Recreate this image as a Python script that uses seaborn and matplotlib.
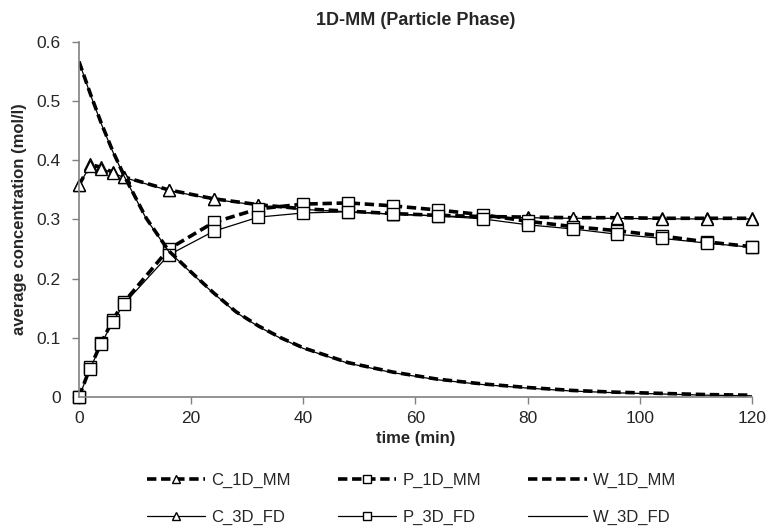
import numpy as np
import pandas as pd
import matplotlib
matplotlib.use("Agg")
import matplotlib.pyplot as plt
import seaborn as sns

# tidpunkter med markörer (C och P)
t_mark = [0, 2, 4, 6, 8, 16, 24, 32, 40, 48, 56, 64, 72, 80, 88, 96, 104, 112, 120]

c_1d = [0.358, 0.393, 0.388, 0.380, 0.372, 0.350, 0.335, 0.325, 0.318, 0.314, 0.310,
        0.307, 0.305, 0.304, 0.303, 0.303, 0.302, 0.302, 0.302]
c_3d = [0.358, 0.391, 0.386, 0.379, 0.371, 0.349, 0.334, 0.324, 0.317, 0.313, 0.309,
        0.306, 0.304, 0.303, 0.302, 0.302, 0.301, 0.301, 0.301]
p_1d = [0.0, 0.050, 0.092, 0.130, 0.160, 0.250, 0.295, 0.318, 0.326, 0.328, 0.323,
        0.316, 0.308, 0.297, 0.288, 0.281, 0.272, 0.262, 0.254]
p_3d = [0.0, 0.048, 0.090, 0.127, 0.157, 0.240, 0.280, 0.304, 0.311, 0.313, 0.309,
        0.306, 0.301, 0.291, 0.284, 0.275, 0.268, 0.260, 0.253]

# W utan markörer, tätare avläsning
t_w = [0, 2, 4, 6, 8, 12, 16, 20, 24, 28, 32, 36, 40, 48, 56, 64, 72, 80, 88, 96, 104, 112, 120]
w_1d = [0.567, 0.513, 0.462, 0.416, 0.375, 0.302, 0.247, 0.211, 0.176, 0.144, 0.120,
        0.100, 0.083, 0.058, 0.042, 0.030, 0.022, 0.016, 0.011, 0.008, 0.006, 0.004, 0.003]
w_3d = [0.567, 0.512, 0.461, 0.415, 0.374, 0.301, 0.246, 0.210, 0.175, 0.143, 0.119,
        0.099, 0.082, 0.057, 0.041, 0.029, 0.021, 0.015, 0.010, 0.007, 0.005, 0.003, 0.002]

sns.set_style("white")
plt.rcParams['font.family'] = ['Liberation Sans', 'DejaVu Sans']

fig = plt.figure(figsize=(7.7, 5.3), dpi=100)
ax = fig.add_axes([0.1026, 0.251, 0.8740, 0.6698])

mk = dict(markersize=8, mfc='white', mec='black', mew=1.0, clip_on=False)
dash = dict(lw=2.6, ls=(0, (2.6, 1.3)))
thin = dict(lw=0.9, ls='-')

sns.lineplot(x=t_mark, y=c_1d, ax=ax, color='black', marker='^', label='C_1D_MM', **dash, **mk)
sns.lineplot(x=t_mark, y=c_3d, ax=ax, color='black', marker='^', label='C_3D_FD', **thin, **mk)
sns.lineplot(x=t_mark, y=p_1d, ax=ax, color='black', marker='s', label='P_1D_MM', **dash, **mk)
sns.lineplot(x=t_mark, y=p_3d, ax=ax, color='black', marker='s', label='P_3D_FD', **thin, **mk)
sns.lineplot(x=t_w, y=w_1d, ax=ax, color='black', label='W_1D_MM', **dash)
sns.lineplot(x=t_w, y=w_3d, ax=ax, color='black', label='W_3D_FD', **thin)

ax.set_xlim(0, 120)
ax.set_ylim(0, 0.6)
ax.set_xticks(range(0, 121, 20))
ax.set_yticks(np.arange(0, 0.61, 0.1))
ax.set_yticklabels(['0', '0.1', '0.2', '0.3', '0.4', '0.5', '0.6'])
ax.tick_params(axis='both', labelsize=12.5, direction='out', length=5, width=1,
               color='#808080', left=True, bottom=True)
ax.tick_params(axis='y', pad=8)
ax.tick_params(axis='x', pad=5)
for s in ['top', 'right']:
    ax.spines[s].set_visible(False)
for s in ['left', 'bottom']:
    ax.spines[s].set_color('#808080')
    ax.spines[s].set_linewidth(1.2)

ax.set_title("1D-MM (Particle Phase)", fontweight='bold', fontsize=13, pad=12)
ax.set_xlabel("time (min)", fontweight='bold', fontsize=12, labelpad=4)
ax.set_ylabel("average concentration (mol/l)", fontweight='bold', fontsize=12, labelpad=7)

handles, labels = ax.get_legend_handles_labels()
ax.get_legend().remove()
fig.legend(handles, labels, loc='upper left', bbox_to_anchor=(147 / 770, 1 - 473 / 530),
           ncol=3, frameon=False, fontsize=12, handlelength=3.5, columnspacing=2.85,
           labelspacing=1.3, handletextpad=0.35, markerscale=0.8,
           borderpad=0, borderaxespad=0)

plt.savefig("out.png", dpi=100, facecolor="white")
plt.close()
